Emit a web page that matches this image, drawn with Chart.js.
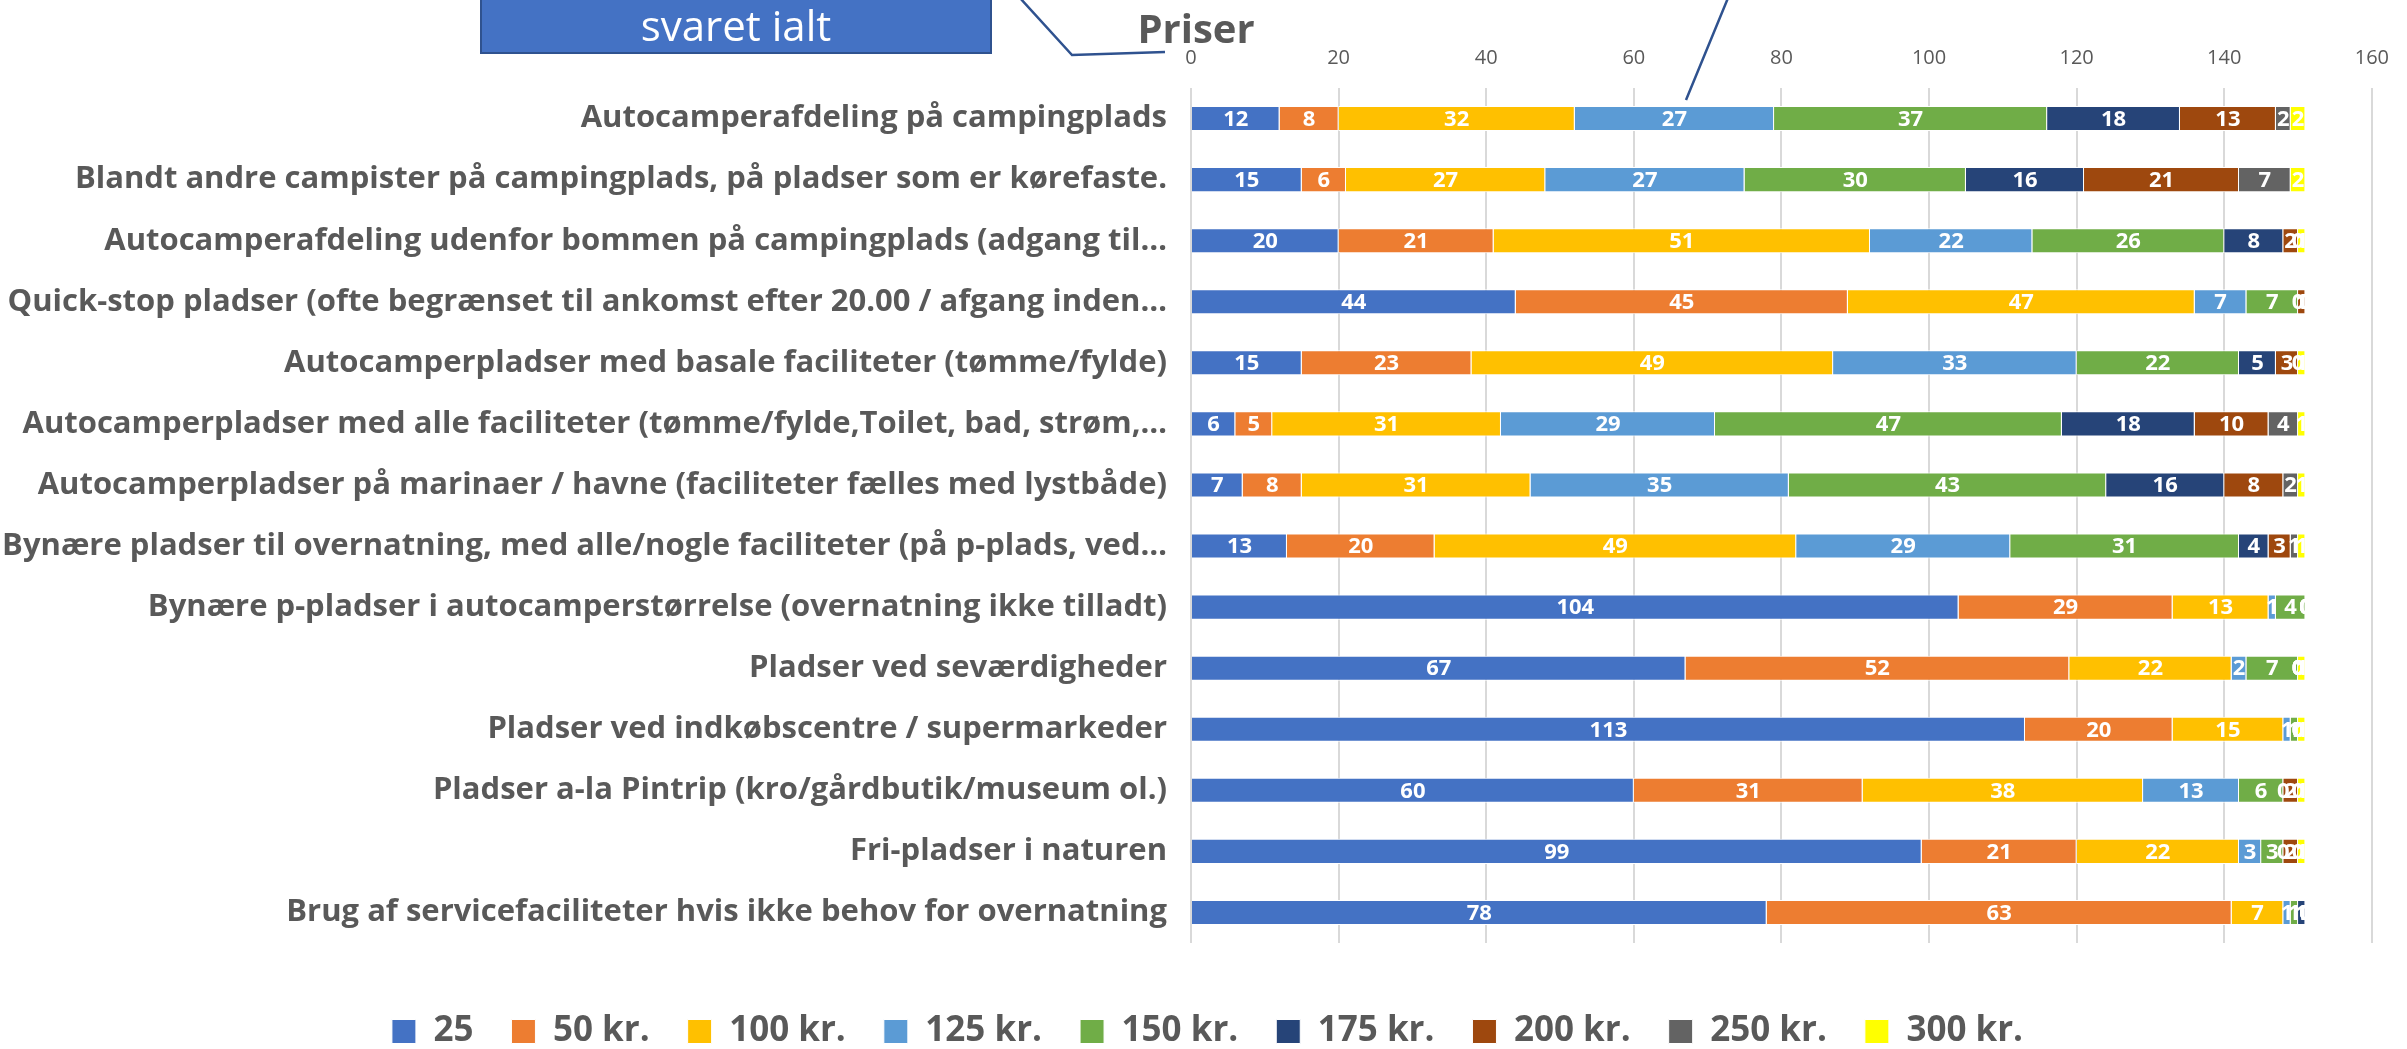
<!DOCTYPE html>
<html>
<head>
<meta charset="utf-8">
<script src="https://cdn.jsdelivr.net/npm/chart.js@4.4.1/dist/chart.umd.min.js"></script>
<style>
  html, body { margin: 0; padding: 0; background: #fff; }
  #wrap { width: 2407px; height: 1049px; position: relative; }
</style>
</head>
<body>
<div id="wrap"><canvas id="myChart"></canvas></div>
<script>
// kategorier (y-aksen)
const categories = [
  'Autocamperafdeling på campingplads',
  'Blandt andre campister på campingplads, på pladser som er kørefaste.',
  'Autocamperafdeling udenfor bommen på campingplads (adgang til…',
  'Quick-stop pladser (ofte begrænset til ankomst efter 20.00 / afgang inden…',
  'Autocamperpladser med basale faciliteter (tømme/fylde)',
  'Autocamperpladser med alle faciliteter (tømme/fylde,Toilet, bad, strøm,…',
  'Autocamperpladser på marinaer / havne (faciliteter fælles med lystbåde)',
  'Bynære pladser til overnatning, med alle/nogle faciliteter (på p-plads, ved…',
  'Bynære p-pladser i autocamperstørrelse (overnatning ikke tilladt)',
  'Pladser ved seværdigheder',
  'Pladser ved indkøbscentre / supermarkeder',
  'Pladser a-la Pintrip (kro/gårdbutik/museum ol.)',
  'Fri-pladser i naturen',
  'Brug af servicefaciliteter hvis ikke behov for overnatning'
]

const priceLabels = ['25', '50 kr.', '100 kr.', '125 kr.', '150 kr.', '175 kr.', '200 kr.', '250 kr.', '300 kr.']
const priceColors = ['#4472C4', '#ED7D31', '#FFC000', '#5B9BD5', '#70AD47', '#264478', '#9E480E', '#636363', '#FFFF00']

// antal svar pr. pris
const pris25  = [12, 15, 20, 44, 15, 6, 7, 13, 104, 67, 113, 60, 99, 78]
const pris50  = [8, 6, 21, 45, 23, 5, 8, 20, 29, 52, 20, 31, 21, 63]
const pris100 = [32, 27, 51, 47, 49, 31, 31, 49, 13, 22, 15, 38, 22, 7]
const pris125 = [27, 27, 22, 7, 33, 29, 35, 29, 1, 2, 1, 13, 3, 1]
const pris150 = [37, 30, 26, 7, 22, 47, 43, 31, 4, 7, 1, 6, 3, 1]
const pris175 = [18, 16, 8, 0, 5, 18, 16, 4, 0, 0, 0, 0, 0, 1]
const pris200 = [13, 21, 2, 1, 3, 10, 8, 3, 0, 0, 0, 2, 2, 0]
const pris250 = [2, 7, 0, 0, 0, 4, 2, 1, 0, 0, 0, 0, 0, 0]
const pris300 = [2, 2, 1, 0, 1, 1, 1, 1, 0, 1, 1, 1, 1, 0]

const xTicks = [0, 20, 40, 60, 80, 100, 120, 140, 160]

const allSeries = [pris25, pris50, pris100, pris125, pris150, pris175, pris200, pris250, pris300]
const gray = '#595959'
const fontName = "'Open Sans', sans-serif"

// tal midt i hver bar
const barLabels = {
  id: 'barLabels',
  afterDatasetsDraw(chart) {
    const ctx = chart.ctx
    ctx.save()
    ctx.font = `bold 22px ${fontName}`
    ctx.fillStyle = '#fff'
    ctx.textAlign = 'center'
    ctx.textBaseline = 'middle'
    chart.data.datasets.forEach((ds, i) => {
      chart.getDatasetMeta(i).data.forEach((bar, j) => {
        ctx.fillText(ds.data[j], (bar.x + bar.base) / 2, bar.y + 1)
      })
    })
    ctx.restore()
  },
  // forklaringen står lidt til højre for midten
  afterLayout(chart) {
    chart.legend.left += 16
    chart.legend.right += 16
  }
}

// "Priser" og billedforklaringen øverst
const topNotes = {
  id: 'topNotes',
  afterDraw(chart) {
    const ctx = chart.ctx
    const x0 = chart.scales.x.getPixelForValue(0)
    ctx.save()
    ctx.font = `bold 40px ${fontName}`
    ctx.fillStyle = gray
    ctx.textAlign = 'center'
    ctx.textBaseline = 'alphabetic'
    ctx.fillText('Priser', x0 + 5, 43)

    ctx.fillStyle = '#4472C4'
    ctx.strokeStyle = '#2F528F'
    ctx.lineWidth = 2
    ctx.fillRect(481, -5, 510, 58)
    ctx.strokeRect(481, -5, 510, 58)
    ctx.fillStyle = '#fff'
    ctx.font = `42px ${fontName}`
    ctx.textBaseline = 'middle'
    ctx.fillText('svaret ialt', 736, 29)

    ctx.lineWidth = 2.5
    ctx.beginPath()
    ctx.moveTo(1020, -2)
    ctx.lineTo(1072, 55)
    ctx.lineTo(1165, 52)
    ctx.moveTo(1728, -2)
    ctx.lineTo(1686, 100)
    ctx.stroke()
    ctx.restore()
  }
}

const ctx = document.getElementById('myChart')

new Chart(ctx, {
  type: 'bar',
  data: {
    labels: categories,
    datasets: allSeries.map((values, i) => ({
      label: priceLabels[i],
      data: values,
      backgroundColor: priceColors[i],
      borderColor: '#fff',
      borderWidth: 1,
      categoryPercentage: 1,
      barPercentage: 0.41
    }))
  },
  options: {
    indexAxis: 'y',
    responsive: true,
    maintainAspectRatio: false,
    animation: false,
    layout: { padding: { left: 0, right: 24, top: 0, bottom: -10 } },
    scales: {
      x: {
        position: 'top',
        stacked: true,
        min: 0,
        max: 160,
        afterBuildTicks: (scale) => { scale.ticks = xTicks.map(v => ({ value: v })) },
        afterFit: (scale) => { scale.height = 88 },
        grid: { color: '#D9D9D9', lineWidth: 2, drawTicks: false },
        border: { display: false },
        ticks: { color: gray, font: { family: fontName, size: 20 }, padding: 18 }
      },
      y: {
        stacked: true,
        afterFit: (scale) => { scale.width = 1191 },
        grid: { display: false, drawTicks: false },
        border: { display: false },
        ticks: { color: gray, font: { family: fontName, size: 31, weight: 'bold' }, padding: 24, autoSkip: false }
      }
    },
    plugins: {
      legend: {
        position: 'bottom',
        title: { display: true, text: '', font: { size: 10 }, padding: { top: 21, bottom: 0 } },
        labels: {
          color: gray,
          font: { family: fontName, size: 35, weight: 'bold' },
          boxWidth: 24,
          boxHeight: 24,
          padding: 38
        }
      },
      tooltip: { enabled: false }
    }
  },
  plugins: [barLabels, topNotes]
})
</script>
</body>
</html>
